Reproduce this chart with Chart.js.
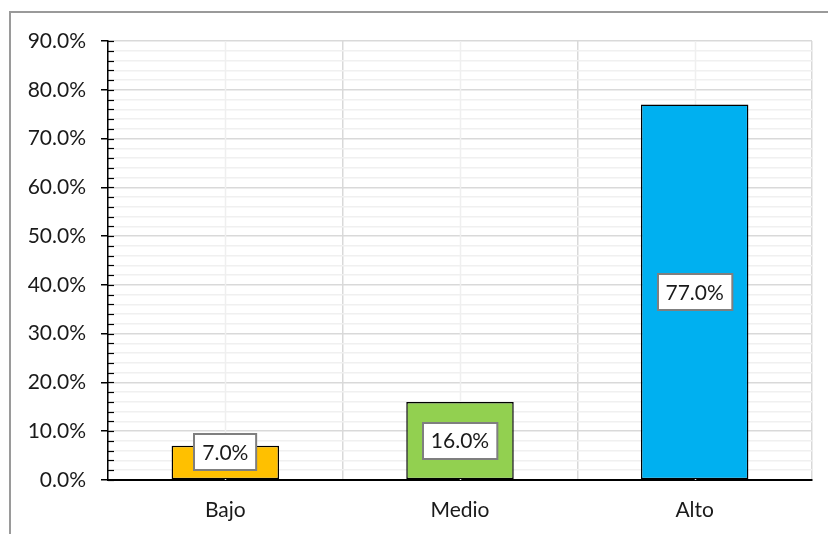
<!DOCTYPE html>
<html>
<head>
<meta charset="utf-8">
<script src="https://cdn.jsdelivr.net/npm/chart.js@4.4.1/dist/chart.umd.min.js"></script>
<style>
  html, body { margin: 0; padding: 0; background: #fff; }
  #wrap { position: relative; width: 828px; height: 534px; }
  #frame { position: absolute; left: 9px; top: 11px; width: 900px; height: 600px;
           border-left: 2px solid #9a9a9a; border-top: 2px solid #9a9a9a; }
  canvas { position: absolute; left: 0; top: 0; }
</style>
</head>
<body>
<div id="wrap">
  <div id="frame"></div>
  <canvas id="levelChart" width="828" height="534"></canvas>
</div>
<script>
//categories and values
var levels = ["Bajo", "Medio", "Alto"];
var percents = [7.0, 16.0, 77.0];
var barColors = ["#FFC000", "#92D050", "#00B0F0"];
var yMax = 90;

var FONT = "Lato, 'Noto Sans', sans-serif";

//lighter lines through the middle of each category + small ticks inside the axis
var extraGrid = {
  id: "extraGrid",
  beforeDatasetsDraw: function(chart) {
    var ctx = chart.ctx, area = chart.chartArea, x = chart.scales.x;
    ctx.save();
    ctx.strokeStyle = "#efefef";
    ctx.lineWidth = 1.5;
    for (var i = 0; i < levels.length; i++) {
      var px = Math.round(x.getPixelForValue(i)) + 0.5;
      ctx.beginPath();
      ctx.moveTo(px, area.top);
      ctx.lineTo(px, area.bottom);
      ctx.stroke();
    }
    ctx.restore();
  },
  afterDraw: function(chart) {
    var ctx = chart.ctx, area = chart.chartArea, y = chart.scales.y;
    ctx.save();
    ctx.strokeStyle = "#000";
    ctx.lineWidth = 1.2;
    for (var v = 0; v <= yMax; v += 2) {
      var py = Math.round(y.getPixelForValue(v)) + 0.5;
      ctx.beginPath();
      ctx.moveTo(area.left, py);
      ctx.lineTo(area.left + 6, py);
      ctx.stroke();
    }
    ctx.restore();
  }
};

//boxed value labels in the middle of the bars
var boxLabels = {
  id: "boxLabels",
  afterDatasetsDraw: function(chart) {
    var ctx = chart.ctx;
    var meta = chart.getDatasetMeta(0);
    ctx.save();
    ctx.font = "21px " + FONT;
    ctx.textAlign = "center";
    ctx.textBaseline = "middle";
    meta.data.forEach(function(bar, i) {
      var txt = percents[i].toFixed(1) + "%";
      var w = ctx.measureText(txt).width + 16;
      var h = 36;
      var cy = Math.min((bar.y + bar.base) / 2, bar.base - 27);
      var bx = Math.round(bar.x - w / 2), by = Math.round(cy - h / 2);
      ctx.fillStyle = "#fff";
      ctx.fillRect(bx, by, w, h);
      ctx.strokeStyle = "#7f7f7f";
      ctx.lineWidth = 2;
      ctx.strokeRect(bx, by, w, h);
      ctx.fillStyle = "#1a1a1a";
      ctx.fillText(txt, bar.x, cy + 1);
    });
    ctx.restore();
  }
};

new Chart("levelChart", {
  type: "bar",
  data: {
    labels: levels,
    datasets: [{
      data: percents,
      backgroundColor: barColors,
      borderColor: "#000",
      borderWidth: 1.5,
      borderSkipped: false,
      categoryPercentage: 1,
      barPercentage: 0.458
    }]
  },
  options: {
    responsive: false,
    animation: false,
    layout: { padding: { left: 0, top: 41, right: 16, bottom: 0 } },
    plugins: {
      legend: { display: false },
      tooltip: { enabled: false }
    },
    scales: {
      x: {
        grid: { offset: true, color: "#d9d9d9", lineWidth: 1.5, drawTicks: false },
        border: { color: "#000", width: 2 },
        ticks: { color: "#1a1a1a", font: { family: FONT, size: 21 }, padding: 18 },
        afterFit: function(s) { s.height = 54; }
      },
      y: {
        min: 0,
        max: yMax,
        grid: {
          color: function(c) { return c.tick && c.tick.value % 10 === 0 ? "#d9d9d9" : "#f0f0f0"; },
          lineWidth: 1.5,
          tickLength: 7,
          tickColor: function(c) { return c.tick && c.tick.value % 10 === 0 ? "#000" : "rgba(0,0,0,0)"; }
        },
        border: { color: "#000", width: 1.5 },
        ticks: {
          stepSize: 2,
          autoSkip: false,
          padding: 15,
          color: "#1a1a1a",
          font: { family: FONT, size: 21 },
          callback: function(v) { return v % 10 === 0 ? v.toFixed(1) + "%" : ""; }
        },
        afterFit: function(s) { s.width = 108; }
      }
    }
  },
  plugins: [extraGrid, boxLabels]
});
</script>
</body>
</html>
